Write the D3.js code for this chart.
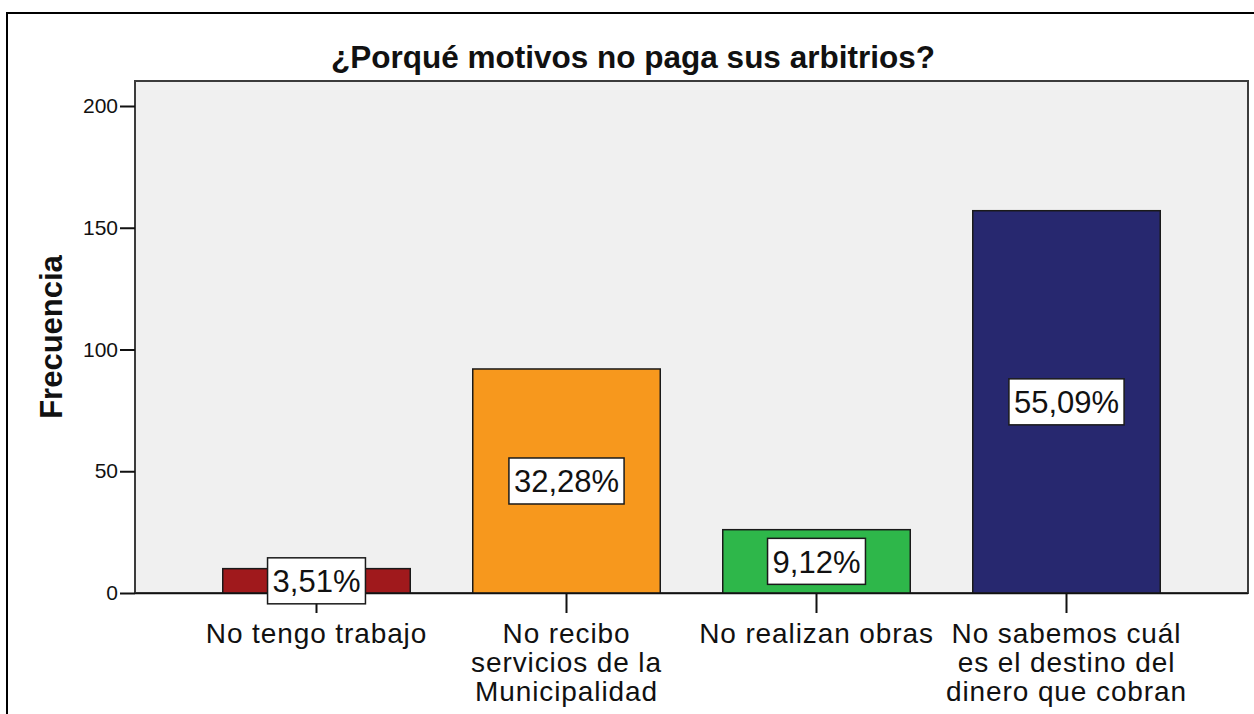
<!DOCTYPE html>
<html>
<head>
<meta charset="utf-8">
<script src="https://cdn.jsdelivr.net/npm/d3@7"></script>
<style>
  body { margin: 0; background: #fff; }
  svg text { font-family: "Liberation Sans", Arial, sans-serif; fill: #111; }
</style>
</head>
<body>
<div id="chart"></div>
<script>
var categories = [
  ["No tengo trabajo"],
  ["No recibo", "servicios de la", "Municipalidad"],
  ["No realizan obras"],
  ["No sabemos cuál", "es el destino del", "dinero que cobran"]
];
var counts = [10, 92, 26, 157];
var percents = ["3,51%", "32,28%", "9,12%", "55,09%"];
var yTicks = [0, 50, 100, 150, 200];
var colors = ["#a0191c", "#f7981d", "#2eb74a", "#27286f"];

var W = 1254, H = 714,
    plot = {left: 135, right: 1248, top: 81, bottom: 593};

var svg = d3.select("#chart").append("svg")
    .attr("width", W)
    .attr("height", H);

// outer frame (top + left only visible)
svg.append("path")
    .attr("d", "M7,714V13H1254")
    .attr("fill", "none")
    .attr("stroke", "#000")
    .attr("stroke-width", 2);

var x = d3.scaleBand()
    .domain(d3.range(categories.length))
    .range([plot.left, plot.right])
    .paddingInner(0.25)
    .paddingOuter(0.351);

var y = d3.scaleLinear()
    .domain([0, 200])
    .range([plot.bottom, plot.top + 25]);

// plot background
svg.append("rect")
    .attr("x", plot.left)
    .attr("y", plot.top)
    .attr("width", plot.right - plot.left)
    .attr("height", plot.bottom - plot.top)
    .attr("fill", "#f0f0f0")
    .attr("stroke", "#3c3c3c")
    .attr("stroke-width", 2);

// bars
svg.selectAll(".bar")
    .data(counts)
  .enter().append("rect")
    .attr("class", "bar")
    .attr("x", function(d, i) { return x(i); })
    .attr("y", function(d) { return y(d); })
    .attr("width", x.bandwidth())
    .attr("height", function(d) { return y(0) - y(d); })
    .attr("fill", function(d, i) { return colors[i]; })
    .attr("stroke", "#1a1a1a")
    .attr("stroke-width", 1.5);

// y axis
var yAxis = svg.append("g")
    .attr("transform", "translate(" + plot.left + ",0)")
    .call(d3.axisLeft(y).tickValues(yTicks).tickSize(15).tickPadding(2).tickSizeOuter(0));
yAxis.select(".domain").remove();
yAxis.selectAll(".tick line").attr("stroke", "#111").attr("stroke-width", 2);
yAxis.selectAll(".tick text")
    .attr("font-size", 21)
    .style("font-family", "'Liberation Sans', Arial, sans-serif")
    .attr("fill", "#222");

// x axis
var xAxis = svg.append("g")
    .attr("transform", "translate(0," + plot.bottom + ")")
    .call(d3.axisBottom(x).tickSize(20).tickSizeOuter(0).tickFormat(""));
xAxis.select(".domain")
    .attr("d", "M" + plot.left + ",0.5H" + plot.right)
    .attr("stroke", "#111")
    .attr("stroke-width", 1.5);
xAxis.selectAll(".tick line").attr("stroke", "#111").attr("stroke-width", 2);

// category labels
var catText = svg.selectAll(".cat")
    .data(categories)
  .enter().append("text")
    .attr("class", "cat")
    .attr("text-anchor", "middle")
    .attr("font-size", 28)
    .attr("letter-spacing", 0.9)
    .attr("transform", function(d, i) {
      return "translate(" + (x(i) + x.bandwidth() / 2) + ",643)";
    });
catText.selectAll("tspan")
    .data(function(d) { return d; })
  .enter().append("tspan")
    .attr("x", 0)
    .attr("y", function(d, i) { return i * 29; })
    .text(function(d) { return d; });

// percentage labels in boxes
var lab = svg.selectAll(".lab")
    .data(counts)
  .enter().append("g")
    .attr("class", "lab")
    .attr("transform", function(d, i) {
      return "translate(" + (x(i) + x.bandwidth() / 2) + "," + ((y(d) + y(0)) / 2) + ")";
    });
lab.append("text")
    .attr("text-anchor", "middle")
    .attr("dy", "0.36em")
    .attr("font-size", 31)
    .attr("fill", "#222")
    .text(function(d, i) { return percents[i]; });
lab.insert("rect", "text")
    .each(function() {
      var t = d3.select(this.parentNode).select("text").node().getBBox();
      d3.select(this)
        .attr("x", t.x - 5)
        .attr("y", -23)
        .attr("width", t.width + 10)
        .attr("height", 46);
    })
    .attr("fill", "#fff")
    .attr("stroke", "#1a1a1a")
    .attr("stroke-width", 1.5);

// title
svg.append("text")
    .attr("x", 633)
    .attr("y", 68)
    .attr("text-anchor", "middle")
    .attr("font-size", 31.5)
    .attr("font-weight", "bold")
    .text("¿Porqué motivos no paga sus arbitrios?");

// y axis title
svg.append("text")
    .attr("transform", "translate(62," + ((plot.top + plot.bottom) / 2) + ") rotate(-90)")
    .attr("text-anchor", "middle")
    .attr("font-size", 31)
    .attr("font-weight", "bold")
    .text("Frecuencia");
</script>
</body>
</html>
